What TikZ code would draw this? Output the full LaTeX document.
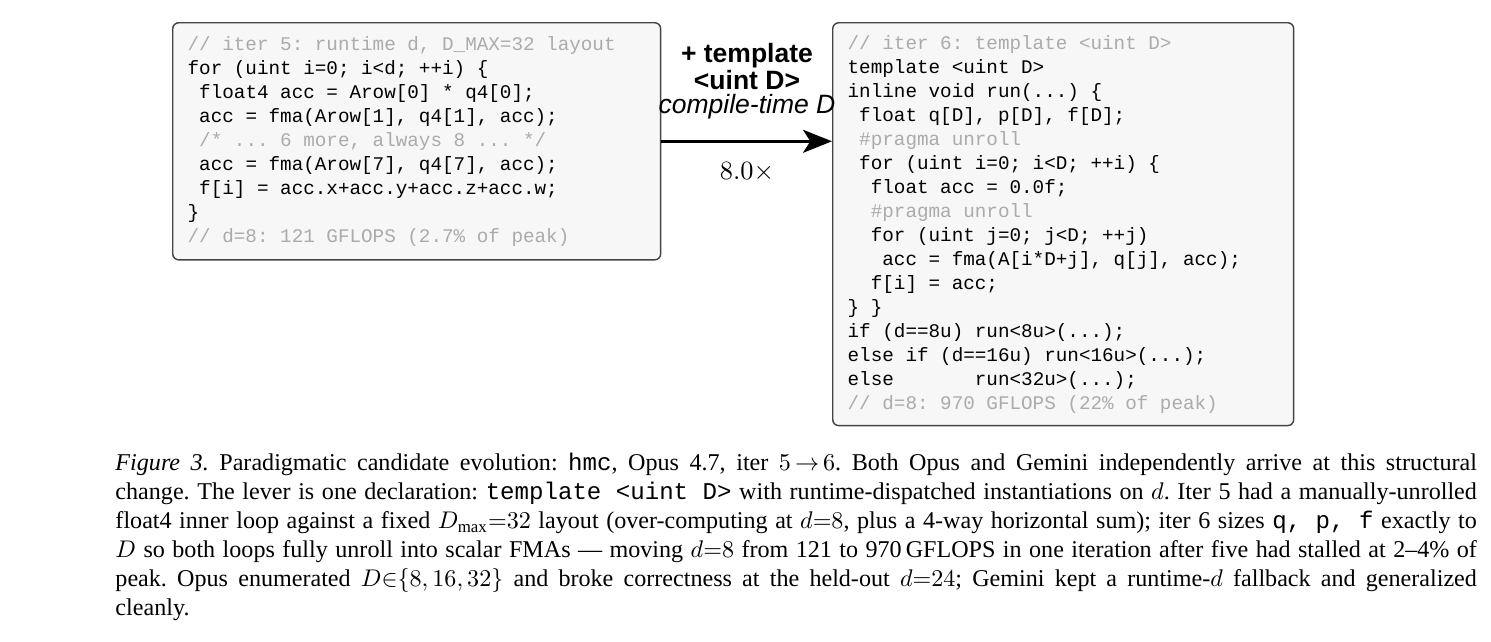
\documentclass[tikz,border=0pt]{standalone}
\usepackage{amsmath,amssymb}
\usepackage{fontspec}
\setmainfont{Liberation Serif}
\setsansfont{Liberation Sans}
\setmonofont{Liberation Mono}
\usepackage{xcolor}
\usepackage{tikz}
\usetikzlibrary{arrows.meta,positioning,calc}
\definecolor{codebg}{HTML}{F7F7F7}
\definecolor{codeframe}{HTML}{444444}
\definecolor{cmt}{HTML}{ABABAB}
\newcommand{\codeind}[1]{\hspace*{#1\fontcharwd\font`x}}
\newcommand{\cmt}[1]{\textcolor{cmt}{#1}}
\newcommand{\codefont}{\ttfamily\fontsize{8pt}{9.96pt}\selectfont}
\tikzset{
  code/.style={draw=codeframe, fill=codebg, line width=0.6pt,
               rounded corners=2.5pt, anchor=north west, align=flush left,
               inner xsep=6.2pt, inner ysep=2pt, font=\codefont},
  flow/.style={-{Stealth[length=12pt, width=9.5pt, inset=3pt]},
               line width=1.25pt},
  lbl/.style={font=\sffamily\fontsize{11pt}{10pt}\selectfont,
              align=center, inner sep=0pt},
}

\begin{document}
\begin{tikzpicture}[x=0.415pt, y=0.415pt]
  \useasboundingbox (0,0) rectangle (1491,-641);
  % iter 5 (left)
  \node[code, minimum width=202.5pt, minimum height=98.4pt,
        text width=190.1pt] (iterL) at (172,-22) {%
    \cmt{// iter 5: runtime d, D\_MAX=32 layout}\\
    for (uint i=0; i<d; ++i) \{\\
    \codeind{1}float4 acc = Arow[0] * q4[0];\\
    \codeind{1}acc = fma(Arow[1], q4[1], acc);\\
    \codeind{1}\cmt{/* ... 6 more, always 8 ... */}\\
    \codeind{1}acc = fma(Arow[7], q4[7], acc);\\
    \codeind{1}f[i] = acc.x+acc.y+acc.z+acc.w;\\
    \}\\
    \cmt{// d=8: 121 GFLOPS (2.7\% of peak)}};
  % iter 6 (right)
  \node[code, minimum width=191.3pt, minimum height=167.2pt,
        text width=178.9pt] (iterR) at (832,-22) {%
    \cmt{// iter 6: template <uint D>}\\
    template <uint D>\\
    inline void run(...) \{\\
    \codeind{1}float q[D], p[D], f[D];\\
    \codeind{1}\cmt{\#pragma unroll}\\
    \codeind{1}for (uint i=0; i<D; ++i) \{\\
    \codeind{2}float acc = 0.0f;\\
    \codeind{2}\cmt{\#pragma unroll}\\
    \codeind{2}for (uint j=0; j<D; ++j)\\
    \codeind{3}acc = fma(A[i*D+j], q[j], acc);\\
    \codeind{2}f[i] = acc;\\
    \} \}\\
    if (d==8u) run<8u>(...);\\
    else if (d==16u) run<16u>(...);\\
    else\codeind{7}run<32u>(...);\\
    \cmt{// d=8: 970 GFLOPS (22\% of peak)}};
  % transition
  \draw[flow] (iterL.east) -- (iterL.east -| iterR.west);
  \node[lbl] (change) at (747,-81)
    {\textbf{+ template}\\ \textbf{<uint D>}\\ \textit{compile-time D}};
  \node[font=\fontsize{11pt}{13pt}\selectfont, inner sep=0pt]
    (speedup) at (747,-172) {$8.0\times$};
  % caption
  \node[anchor=north west, inner sep=0pt, align=flush left,
        font=\fontsize{10pt}{12pt}\selectfont\frenchspacing] (caption)
    at (115,-453) {%
    \makebox[565pt][s]{\textit{Figure 3.} Paradigmatic candidate evolution: \texttt{hmc}, Opus 4.7, iter $5\,{\to}\,6$. Both Opus and Gemini independently arrive at this structural}\\
    \makebox[565pt][s]{change. The lever is one declaration: \texttt{template <uint D>} with runtime-dispatched instantiations on $d$. Iter 5 had a manually-unrolled}\\
    \makebox[565pt][s]{float4 inner loop against a fixed $D_{\max}{=}32$ layout (over-computing at $d{=}8$, plus a 4-way horizontal sum); iter 6 sizes \texttt{q, p, f} exactly to}\\
    \makebox[565pt][s]{$D$ so both loops fully unroll into scalar FMAs --- moving $d{=}8$ from 121 to 970\,GFLOPS in one iteration after five had stalled at 2--4$\%$ of}\\
    \makebox[565pt][s]{peak. Opus enumerated $D{\in}\{8,16,32\}$ and broke correctness at the held-out $d{=}24$; Gemini kept a runtime-$d$ fallback and generalized}\\
    cleanly.};
\end{tikzpicture}
\end{document}
